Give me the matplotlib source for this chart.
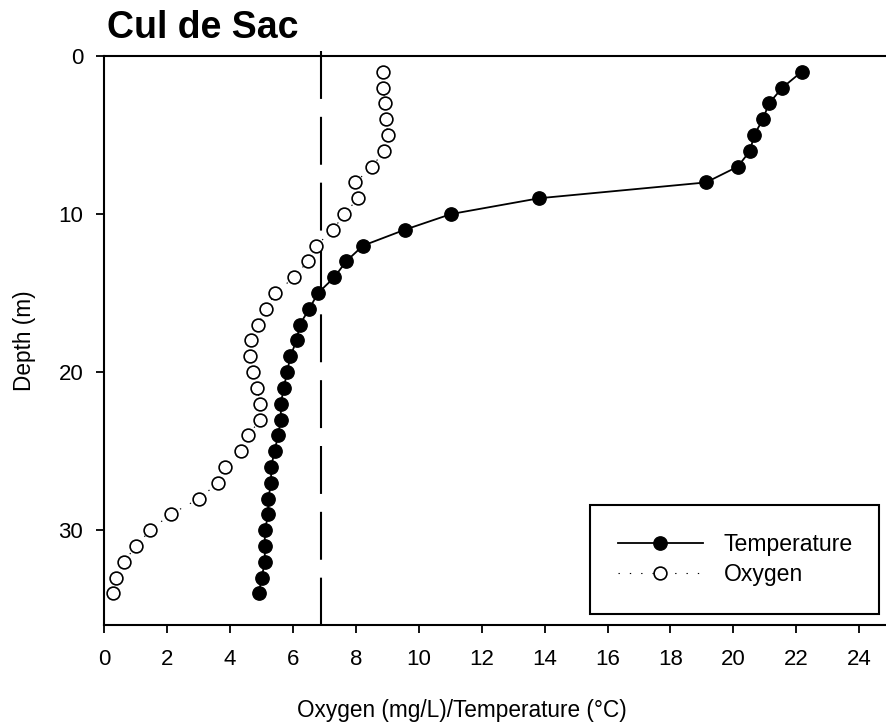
import matplotlib
matplotlib.use('Agg')
import matplotlib.pyplot as plt

plt.rcParams['font.family'] = ['Liberation Sans', 'DejaVu Sans']

# depth profile, 1 m steps
depth = list(range(1, 35))
temperature = [22.17, 21.56, 21.13, 20.94, 20.66, 20.53, 20.14, 19.13, 13.83, 11.03,
               9.55, 8.23, 7.69, 7.32, 6.80, 6.52, 6.22, 6.12, 5.92, 5.82,
               5.71, 5.62, 5.62, 5.53, 5.42, 5.31, 5.31, 5.22, 5.22, 5.11,
               5.11, 5.11, 5.01, 4.92]
oxygen = [8.88, 8.88, 8.92, 8.96, 9.02, 8.90, 8.52, 7.99, 8.08, 7.63,
          7.28, 6.74, 6.47, 6.04, 5.44, 5.15, 4.89, 4.66, 4.64, 4.74,
          4.87, 4.96, 4.96, 4.59, 4.36, 3.85, 3.63, 3.02, 2.12, 1.46,
          1.03, 0.62, 0.37, 0.27]
threshold = 6.9

fig = plt.figure(figsize=(8.86, 7.26), dpi=100)
ax = fig.add_axes([0.1174, 0.1391, 0.8826, 0.7838])

ax.plot(temperature, depth, color='black', lw=1.3, marker='o', ms=9.6,
        markerfacecolor='black', markeredgecolor='black', label='Temperature', zorder=3)
ax.plot(oxygen, depth, color='black', lw=0.8, ls=(0, (1.2, 9)), marker='o', ms=9.2,
        markerfacecolor='white', markeredgecolor='black', markeredgewidth=1.2,
        label='Oxygen', zorder=3)

ax.plot([threshold, threshold], [-0.3, 36], color='black', lw=1.5,
        ls=(0, (23, 8.6)), clip_on=False, zorder=2)

ax.set_xlim(0, 24.85)
ax.set_ylim(36, 0)
ax.set_xticks(range(0, 25, 2))
ax.set_yticks([0, 10, 20, 30])

for side in ['left', 'bottom', 'top']:
    ax.spines[side].set_linewidth(1.5)
ax.spines['right'].set_visible(False)
ax.tick_params(direction='out', length=6, width=1.3, labelsize=16)
ax.tick_params(axis='x', top=False, pad=11)
ax.tick_params(axis='y', pad=9)

ax.set_xlabel('Oxygen (mg/L)/Temperature (°C)', fontsize=16.3, labelpad=21)
ax.xaxis.label.set_x(0.458)
ax.set_ylabel('Depth (m)', fontsize=16.3, labelpad=16)
ax.set_title('Cul de Sac', fontsize=27, fontweight='bold', loc='left', pad=13, x=0.004)

leg = ax.legend(loc='center', bbox_to_anchor=(0.6215, 0.021, 0.3696, 0.188),
                mode='expand', borderaxespad=0, fontsize=16.6, handlelength=3.7,
                handletextpad=0.9, borderpad=1.2, labelspacing=0.3,
                fancybox=False, framealpha=1)
leg.get_frame().set_edgecolor('black')
leg.get_frame().set_linewidth(1.5)

fig.savefig('out.png', dpi=100)
